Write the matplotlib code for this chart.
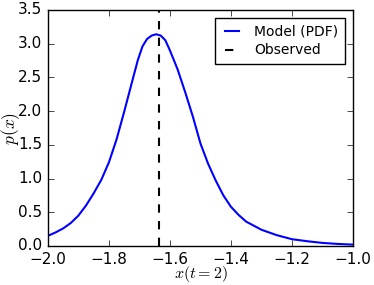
import matplotlib
matplotlib.use("Agg")
import matplotlib.pyplot as plt

plt.style.use("classic")

# density estimate of x at t=2
x_vals = [-2.0, -1.975, -1.95, -1.925, -1.9, -1.875, -1.85, -1.825, -1.8, -1.775,
          -1.75, -1.725, -1.705, -1.69, -1.675, -1.66, -1.645, -1.63, -1.615, -1.6,
          -1.575, -1.55, -1.525, -1.5, -1.475, -1.45, -1.425, -1.4, -1.375, -1.35,
          -1.3, -1.25, -1.2, -1.15, -1.1, -1.05, -1.0]
pdf_vals = [0.15, 0.20, 0.26, 0.34, 0.45, 0.60, 0.78, 0.98, 1.24, 1.58,
            1.99, 2.42, 2.76, 2.96, 3.07, 3.12, 3.14, 3.12, 3.05, 2.90,
            2.62, 2.28, 1.92, 1.52, 1.22, 0.97, 0.75, 0.58, 0.46, 0.36,
            0.24, 0.16, 0.10, 0.07, 0.045, 0.03, 0.02]
observed = -1.637

fig = plt.figure(figsize=(3.74, 2.85), dpi=100)
ax = fig.add_axes([0.128, 0.137, 0.816, 0.828])

ax.plot(x_vals, pdf_vals, color="blue", lw=1.5, label="Model (PDF)")
ax.axvline(observed, color="black", ls="--", lw=1.5, label="Observed")

ax.set_xlim(-2.0, -1.0)
ax.set_ylim(0, 3.5)
ax.set_xticks([-2.0, -1.8, -1.6, -1.4, -1.2, -1.0])
ax.set_yticks([0.0, 0.5, 1.0, 1.5, 2.0, 2.5, 3.0, 3.5])
ax.tick_params(labelsize=11)
ax.set_xlabel("$x(t=2)$", fontsize=11.5, labelpad=-2)
ax.set_ylabel("$p(x)$", fontsize=12.5, labelpad=-3)

ax.legend(loc="upper right", fontsize=10, handlelength=1.6, borderpad=0.45,
          labelspacing=0.35, borderaxespad=0.6)

fig.savefig("out.png", dpi=100)
